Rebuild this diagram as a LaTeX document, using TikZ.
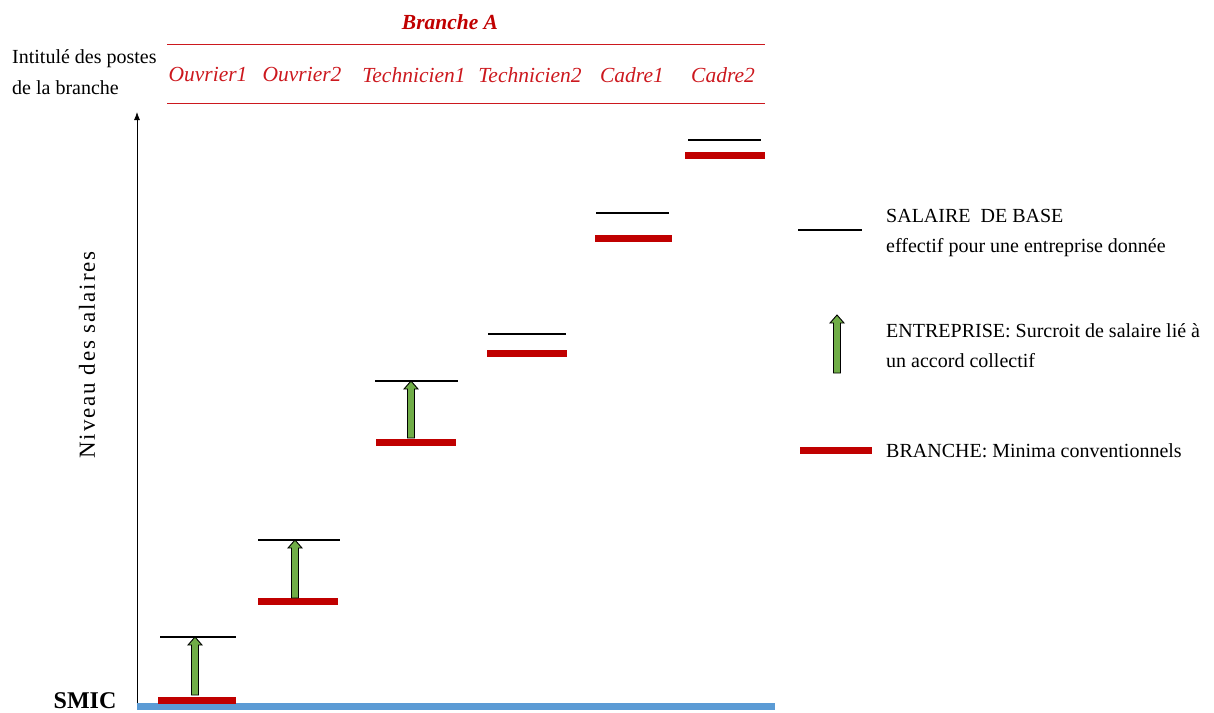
\documentclass[tikz,border=0pt]{standalone}
\usepackage{fontspec}
\setmainfont{Liberation Serif}
\newfontfamily\spacedfont[LetterSpace=8]{Liberation Serif}
\usetikzlibrary{arrows.meta}
\definecolor{bred}{RGB}{192,0,0}
\definecolor{hred}{RGB}{204,24,30}
\definecolor{smicblue}{RGB}{91,155,213}
\definecolor{agreen}{RGB}{112,173,71}
\newcommand{\grarrow}[3]{% x, ybottom, ytop
  \filldraw[fill=agreen,draw=black,line width=0.9pt]
    (#1-3.5,#2) -- (#1+3.5,#2) -- (#1+3.5,#3+8) -- (#1+7,#3+8) -- (#1,#3) -- (#1-7,#3+8) -- (#1-3.5,#3+8) -- cycle;}
\begin{document}
\begin{tikzpicture}[x=1pt,y=-1pt,
  redbar/.style={draw=bred,line width=7pt},
  blackbar/.style={draw=black,line width=2.5pt},
  hdr/.style={text=hred,font=\fontsize{21.5}{24}\selectfont\itshape,inner sep=0pt},
  txt/.style={font=\fontsize{20}{30}\selectfont,inner sep=0pt,align=left,anchor=west},
  hline/.style={draw=hred,line width=1pt}]
\useasboundingbox (0,0) rectangle (1214,712);
% header
\node[text=bred,font=\fontsize{21.5}{24}\selectfont\bfseries\itshape,inner sep=0pt] (branche) at (450,22) {Branche A};
\coordinate (h1a) at (167,44); \coordinate (h1b) at (765,44);
\coordinate (h2a) at (167,103); \coordinate (h2b) at (765,103);
\draw[hline] (h1a) -- (h1b);
\draw[hline] (h2a) -- (h2b);
\node[hdr] (o1) at (208,75) {Ouvrier1};
\node[hdr] (o2) at (302,75) {Ouvrier2};
\node[hdr] (t1) at (414,75) {Technicien1};
\node[hdr] (t2) at (530,75) {Technicien2};
\node[hdr] (c1) at (632,75) {Cadre1};
\node[hdr] (c2) at (723,75) {Cadre2};
\node[font=\fontsize{20}{31}\selectfont,inner sep=0pt,align=left,anchor=north west] (intit) at (12,49) {Intitulé des postes\\de la branche};
% axis
\coordinate (ax0) at (137,703); \coordinate (ax1) at (137,112);
\draw[line width=0.8pt,-{Latex[length=8pt,width=6pt]}] (ax0) -- (ax1);
\node[rotate=90,font=\fontsize{23}{26}\selectfont\spacedfont,inner sep=0pt] (niveau) at (87,355) {Niveau des salaires};
\node[font=\fontsize{24}{27}\selectfont\bfseries,inner sep=0pt,anchor=base] (smic) at (85,708) {SMIC};
\coordinate (s0) at (137,706); \coordinate (s1) at (775,706);
\draw[draw=smicblue,line width=7pt] (s0) -- (s1);
% bars
\draw[redbar] (158,700) -- (236,700);
\draw[blackbar] (160,637) -- (236,637);
\grarrow{195}{695}{637}
\draw[redbar] (258,601) -- (338,601);
\draw[blackbar] (258,540) -- (340,540);
\grarrow{295}{598}{540}
\draw[redbar] (376,442) -- (456,442);
\draw[blackbar] (375,381) -- (458,381);
\grarrow{411}{438}{381}
\draw[redbar] (487,353) -- (567,353);
\draw[blackbar] (488,334) -- (566,334);
\draw[redbar] (595,238) -- (672,238);
\draw[blackbar] (596,213) -- (669,213);
\draw[redbar] (685,155) -- (765,155);
\draw[blackbar] (688,140) -- (761,140);
% legend
\draw[blackbar] (798,230) -- (862,230);
\node[txt] (l1) at (886,233) {SALAIRE~~DE BASE\\effectif pour une entreprise donnée};
\grarrow{837}{373}{315}
\node[txt] (l2) at (886,346) {ENTREPRISE: Surcroit de salaire lié à\\un accord collectif};
\draw[redbar] (800,450) -- (872,450);
\node[txt] (l3) at (886,451) {BRANCHE: Minima conventionnels};
\end{tikzpicture}
\end{document}
